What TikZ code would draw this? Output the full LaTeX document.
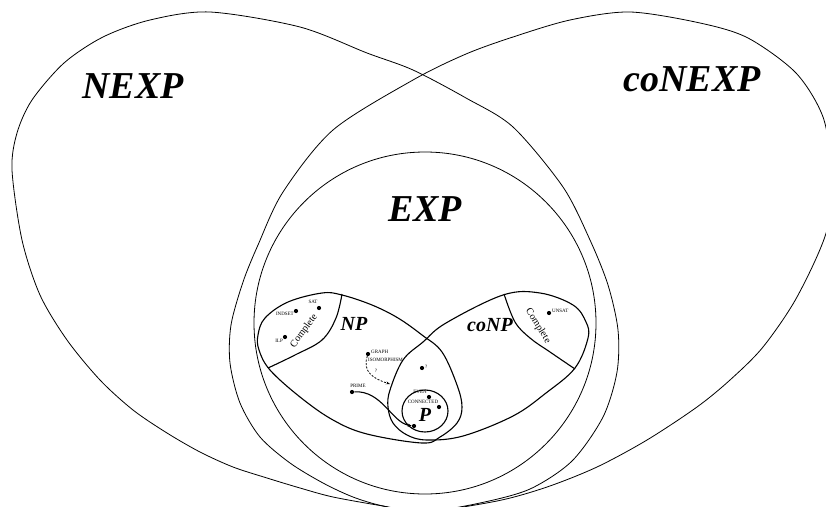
\documentclass[tikz,border=0pt]{standalone}
\usepackage{fontspec}
\setmainfont{Liberation Serif}
\usetikzlibrary{arrows.meta}
\begin{document}
\begin{tikzpicture}[x=1pt,y=-1pt,
  outer/.style={line width=0.8pt},
  inner/.style={line width=1.1pt},
  bigl/.style={font=\fontsize{38}{40}\selectfont\bfseries\itshape, inner sep=0pt},
  midl/.style={font=\fontsize{20}{22}\selectfont\bfseries\itshape, inner sep=0pt},
  cmpl/.style={font=\fontsize{10}{11}\selectfont, inner sep=0pt},
  tinyl/.style={font=\fontsize{5}{6}\selectfont, inner sep=0pt},
  dotn/.style={circle, fill, inner sep=0pt, minimum size=4.2pt}]
\useasboundingbox (0,0) rectangle (826,506);
\clip (0,0) rectangle (826,506);
% NEXP
\draw[outer] plot[smooth cycle, tension=0.5] coordinates {
 (210,12) (300,27) (367,53) (413,70) (466,98) (513,127) (563,187) (590,240)
 (608,285) (618,330) (617,372) (603,417) (572,461) (530,489) (480,503)
 (423,512) (383,506) (333,497) (300,488) (267,478) (233,467) (200,452)
 (167,433) (133,410) (100,380) (67,340) (40,295) (22,240) (12,170)
 (17,133) (32,100) (64,63) (103,37) (150,20)};
% coNEXP
\draw[outer] plot[smooth cycle, tension=0.5] coordinates {
 (630,12) (700,23) (748,38) (796,73) (823,117) (831,170) (827,230)
 (797,297) (763,347) (730,380) (697,407) (647,440) (597,467) (547,487)
 (497,501) (423,512) (383,506) (353,497) (323,483) (290,463) (260,437)
 (240,403) (230,363) (231,325) (243,282) (258,245) (283,192) (333,130)
 (413,80) (466,54) (513,37) (570,20)};
% EXP
\draw[outer] (425,323) circle[radius=171];
% NP
\draw[inner] plot[smooth cycle, tension=0.6] coordinates {
 (258,335) (265,318) (288,302) (322,293) (342,295) (372,305) (398,318)
 (422,335) (442,352) (457,385) (462,407) (457,423) (440,437) (422,443)
 (367,434) (333,420) (300,397) (270,370) (259,350)};
% coNP
\draw[inner] plot[smooth cycle, tension=0.6] coordinates {
 (588,338) (575,368) (546,393) (513,416) (463,436) (427,440) (407,435)
 (393,423) (388,407) (390,390) (403,360) (423,342) (446,323) (503,295)
 (540,293) (573,305) (586,322)};
% complete boundaries
\draw[inner] plot[smooth, tension=0.6] coordinates {(342,294) (336,318) (322,340) (295,355) (268,368)};
\draw[inner] plot[smooth, tension=0.6] coordinates {(504,294) (515,322) (530,338) (550,352) (575,369)};
% P circle
\draw[inner] (425,411) ellipse[x radius=23, y radius=21];
% labels
\node[bigl] (nexp) at (133,86) {NEXP};
\node[bigl] (conexp) at (692,79) {coNEXP};
\node[bigl] (exp) at (425,209) {EXP};
\node[midl] (np) at (354,324) {NP};
\node[midl] (conp) at (490,325) {coNP};
\node[midl] (p) at (425,415) {P};
\node[cmpl, rotate=54] (cmp1) at (304,331) {Complete};
\node[cmpl, rotate=-58] (cmp2) at (538,326) {Complete};
% dots
\node[dotn] (indset) at (296,311) {};
\node[tinyl, anchor=east] (indsetl) at (294,314) {INDSET};
\node[dotn] (sat) at (319,308) {};
\node[tinyl] (satl) at (313,302) {SAT};
\node[dotn] (ilp) at (285,337) {};
\node[tinyl, anchor=east] (ilpl) at (283,341) {ILP};
\node[dotn] (unsat) at (549,313) {};
\node[tinyl, anchor=west] (unsatl) at (552,311) {UNSAT};
\node[dotn] (gi) at (368,354) {};
\node[tinyl, anchor=west] (gil1) at (371,352) {GRAPH};
\node[tinyl, anchor=west] (gil2) at (368,360) {ISOMORPHISM};
\node[tinyl] (gq) at (376,371) {?};
\coordinate (gitip) at (390,384);
\draw[line width=0.8pt, dashed, dash pattern=on 2pt off 1.5pt, -{Stealth[length=4pt,width=3pt]}]
  (gi) .. controls (362,372) and (374,379) .. (gitip);
\node[dotn] (q) at (422,368) {};
\node[tinyl, anchor=west] (ql) at (425,367) {?};
\node[dotn] (prime) at (352,392) {};
\node[tinyl] (primel) at (358,386) {PRIME};
\node[dotn] (pend) at (414,426) {};
\draw[inner, -{Stealth[length=4pt,width=3pt]}] (prime) .. controls (382,390) and (392,423) .. (pend);
\node[dotn] (even) at (429,397) {};
\node[tinyl] (evenl) at (420,392) {EVEN};
\node[dotn] (conn) at (439,407) {};
\node[tinyl] (connl) at (423,402) {CONNECTED};
\end{tikzpicture}
\end{document}
